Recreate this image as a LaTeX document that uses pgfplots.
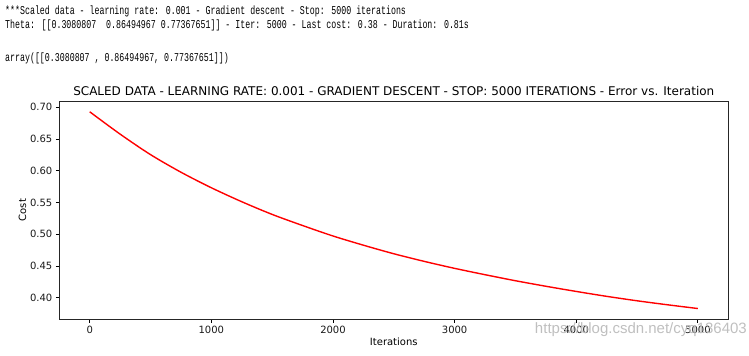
\documentclass[border=0pt]{standalone}
\usepackage{fontspec}
\setmainfont{DejaVu Sans}
\newfontfamily\monofont[FakeStretch=0.69]{Liberation Mono}
\newfontfamily\wmfont{Liberation Sans}
\usepackage{pgfplots}
\pgfplotsset{compat=1.18}
\begin{document}
\begin{tikzpicture}
\useasboundingbox (0,0) rectangle (749bp,356bp);
% console text
\node[anchor=west,inner sep=0pt,font=\monofont\fontsize{12bp}{14bp}\selectfont] at (5bp,345bp) {***Scaled data - learning rate: 0.001 - Gradient descent - Stop: 5000 iterations};
\node[anchor=west,inner sep=0pt,font=\monofont\fontsize{12bp}{14bp}\selectfont] at (5bp,331bp) {Theta: [[0.3080807\ \ 0.86494967 0.77367651]] - Iter: 5000 - Last cost: 0.38 - Duration: 0.81s};
\node[anchor=west,inner sep=0pt,font=\monofont\fontsize{12bp}{14bp}\selectfont] at (5bp,298bp) {array([[0.3080807 , 0.86494967, 0.77367651]])};
\begin{axis}[
  at={(59.3bp,37bp)}, anchor=south west,
  scale only axis, width=669bp, height=218bp,
  xmin=-250, xmax=5250, ymin=0.3665, ymax=0.710,
  xtick={0,1000,2000,3000,4000,5000},
  ytick={0.40,0.45,0.50,0.55,0.60,0.65,0.70},
  /pgf/number format/1000 sep={},
  /pgf/number format/assume math mode=true,
  yticklabel style={/pgf/number format/fixed,/pgf/number format/fixed zerofill,/pgf/number format/precision=2},
  xtick pos=bottom, ytick pos=left, tick align=outside,
  major tick length=3.5bp,
  tick style={black, line width=0.8bp},
  axis line style={black!85, line width=0.8bp},
  ticklabel style={font=\fontsize{10bp}{12bp}\selectfont, text=black!90},
  title={SCALED DATA - LEARNING RATE: 0.001 - GRADIENT DESCENT - STOP: 5000 ITERATIONS - Error vs. Iteration},
  title style={font=\fontsize{12bp}{14bp}\selectfont, yshift=-4bp},
  xlabel={Iterations}, ylabel={Cost},
  label style={font=\fontsize{10bp}{12bp}\selectfont},
  xlabel style={yshift=3bp},
  ylabel style={yshift=-3bp},
]
\addplot[red, line width=1.4bp, smooth, tension=0.5] coordinates {
(0,0.693) (250,0.6578) (500,0.6255) (750,0.5978) (1000,0.5733) (1250,0.5513)
(1500,0.5313) (1750,0.5138) (2000,0.4973) (2250,0.4828) (2500,0.4693) (2750,0.4573)
(3000,0.4463) (3250,0.4363) (3500,0.4268) (3750,0.4181) (4000,0.4099) (4250,0.4022)
(4500,0.3952) (4750,0.3889) (5000,0.383)
};
\end{axis}
\node[anchor=east,inner sep=0pt,font=\wmfont\fontsize{15bp}{17bp}\selectfont,text=black!25] at (747bp,26bp) {https://blog.csdn.net/cyq136403};
\end{tikzpicture}
\end{document}
